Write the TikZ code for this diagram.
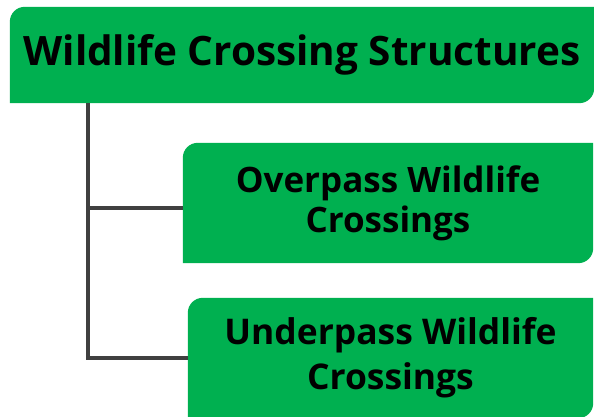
\documentclass[tikz,border=0pt]{standalone}
\usepackage{fontspec}
\setmainfont{Open Sans}
\usetikzlibrary{backgrounds}
\definecolor{boxgreen}{HTML}{00B050}
\definecolor{linegray}{HTML}{404040}
\tikzset{
  box/.style={inner sep=0pt, align=center, font=\bfseries},
  conn/.style={draw=linegray, line width=4pt, line join=miter},
}
\newcommand{\greenshape}[1]{%
  \fill[boxgreen] (#1.south west) -- ([yshift=-15pt]#1.north west)
    arc[start angle=180,end angle=90,radius=15pt] -- (#1.north east)
    -- ([yshift=15pt]#1.south east)
    arc[start angle=0,end angle=-90,radius=15pt] -- cycle;}
\begin{document}
\begin{tikzpicture}[x=1pt,y=1pt]
\useasboundingbox (0,0) rectangle (594,416);
\node[box, minimum width=584pt, minimum height=96pt, font=\bfseries\fontsize{40.5}{46}\selectfont] (top) at (302,361) {Wildlife Crossing Structures};
\node[box, minimum width=410pt, minimum height=120pt, font=\bfseries\fontsize{35}{40}\selectfont] (over) at (388,213) {Overpass Wildlife\\Crossings};
\node[box, minimum width=405pt, minimum height=120pt, font=\bfseries\fontsize{35.4}{45}\selectfont] (under) at (390.5,58) {Underpass Wildlife\\Crossings};
\begin{scope}[on background layer]
\greenshape{top}
\greenshape{over}
\greenshape{under}
\end{scope}
\coordinate (trunk) at ([xshift=78pt]top.south west);
\draw[conn] (trunk) |- (under.west);
\draw[conn] (trunk |- 0,208) -- ([yshift=-5pt]over.west);
\end{tikzpicture}
\end{document}
